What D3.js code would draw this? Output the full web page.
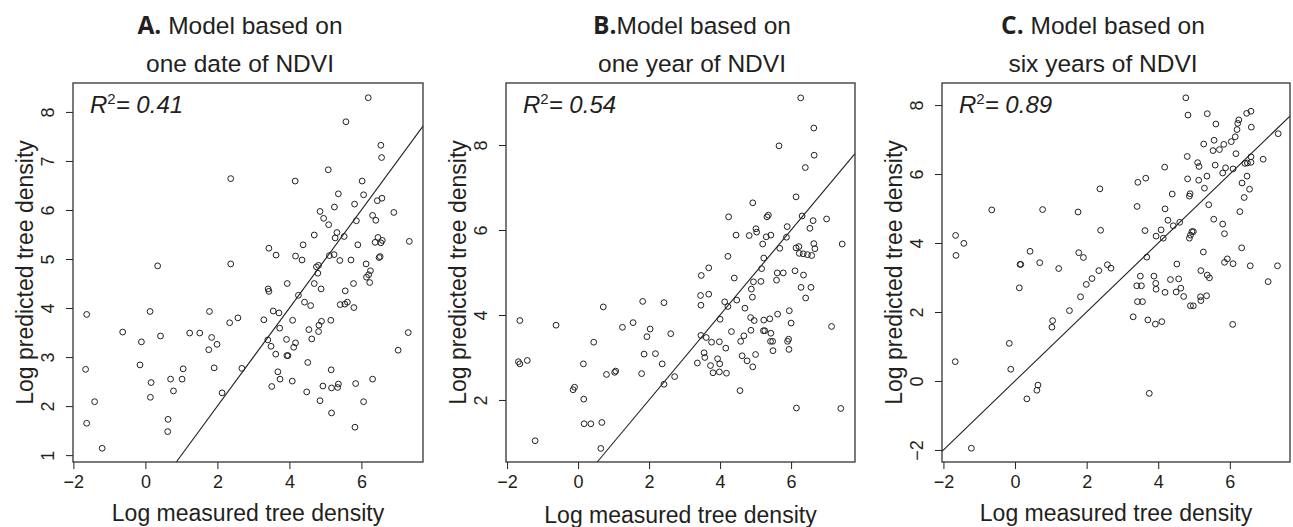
<!DOCTYPE html>
<html>
  <head>
    <meta charset="utf-8">
    <title>Predicted vs measured tree density</title>
    <style>
      body { margin: 0; background: #fff; }
      svg { display: block; }
      text { font-family: "Liberation Sans", Arial, sans-serif; fill: #231f20; }
    </style>
  </head>
  <body>
    <svg id="chart" width="1293" height="527"></svg>
    <script src="https://d3js.org/d3.v7.min.js"></script>
    <script>
      // points: [log measured, log predicted]
      const ptsA = [
        [6.19,8.29],[5.57,7.80],[6.54,7.32],[6.56,7.07],[5.08,6.82],[2.37,6.64],[4.16,6.59],[6.02,6.59],
        [6.06,6.31],[5.36,6.33],[5.25,6.06],[5.81,6.12],[6.57,6.24],[6.44,6.19],[4.85,5.97],[4.95,5.83],
        [6.90,5.95],[6.31,5.89],[6.40,5.79],[5.09,5.70],[5.86,5.78],[4.69,5.49],[5.32,5.54],[5.27,5.43],
        [5.52,5.46],[6.46,5.44],[6.38,5.34],[6.54,5.33],[6.58,5.38],[5.90,5.29],[4.38,5.29],[3.43,5.22],
        [3.63,5.08],[4.17,5.06],[4.35,4.98],[5.11,5.07],[5.24,5.09],[5.40,4.97],[5.71,4.98],[6.52,5.05],
        [6.49,5.03],[6.13,4.90],[0.34,4.86],[2.37,4.90],[4.75,4.84],[4.81,4.87],[4.79,4.71],[6.25,4.76],
        [6.20,4.68],[6.14,4.63],[6.23,4.52],[3.94,4.50],[4.69,4.50],[4.88,4.39],[5.78,4.50],[3.41,4.39],
        [3.43,4.34],[5.55,4.35],[4.25,4.26],[4.42,4.12],[4.59,4.05],[5.41,4.07],[5.54,4.08],[5.61,4.12],
        [5.79,4.01],[3.55,3.94],[3.71,3.90],[1.78,3.93],[0.13,3.93],[-1.63,3.87],[2.57,3.80],[2.34,3.70],
        [3.29,3.76],[4.09,3.75],[5.15,3.75],[4.89,3.73],[4.82,3.65],[3.73,3.59],[4.54,3.56],[4.81,3.52],
        [-0.63,3.51],[1.23,3.49],[1.51,3.49],[0.42,3.43],[1.84,3.40],[-0.11,3.31],[3.40,3.35],[3.92,3.36],
        [4.62,3.37],[1.99,3.26],[4.17,3.29],[3.49,3.22],[4.12,3.20],[1.76,3.15],[3.62,3.06],[3.93,3.03],
        [3.96,3.03],[7.02,3.14],[-0.15,2.84],[4.51,2.89],[-1.66,2.75],[1.05,2.76],[1.91,2.78],[2.68,2.77],
        [5.16,2.74],[3.68,2.70],[0.70,2.55],[1.02,2.55],[3.74,2.55],[4.08,2.51],[6.31,2.55],[0.16,2.48],
        [5.84,2.46],[3.51,2.40],[4.93,2.41],[5.17,2.37],[5.34,2.38],[5.36,2.45],[0.78,2.31],[4.48,2.29],
        [2.13,2.27],[0.14,2.18],[-1.41,2.09],[4.85,2.11],[6.06,2.09],[5.17,1.86],[-1.63,1.65],[0.63,1.73],
        [0.62,1.48],[5.82,1.57],[-1.20,1.14],[7.33,5.36],[7.30,3.50]
      ]
      const ptsB = [
        [6.27,9.11],[6.64,8.40],[5.66,7.98],[6.65,7.76],[6.40,7.47],[6.14,6.78],[4.92,6.64],[6.31,6.33],
        [6.62,6.22],[4.24,6.31],[5.32,6.31],[5.36,6.35],[5.89,6.08],[6.53,6.04],[5.01,6.03],[5.03,5.95],
        [4.45,5.88],[4.82,5.87],[5.30,5.84],[5.43,5.88],[5.87,5.83],[5.20,5.67],[6.64,5.68],[6.14,5.58],
        [6.22,5.61],[5.68,5.57],[6.67,5.56],[6.23,5.45],[6.34,5.44],[6.46,5.42],[6.58,5.40],[4.22,5.38],
        [5.23,5.34],[5.17,5.09],[3.68,5.11],[3.47,4.93],[5.61,4.99],[5.78,4.99],[6.11,5.04],[6.35,4.94],
        [4.40,4.87],[4.94,4.78],[5.15,4.79],[5.59,4.82],[4.88,4.61],[6.28,4.65],[6.56,4.65],[3.45,4.46],
        [3.68,4.49],[4.91,4.42],[6.41,4.40],[1.82,4.32],[2.42,4.29],[0.71,4.19],[4.13,4.31],[4.47,4.35],
        [4.22,4.20],[3.46,4.23],[4.70,4.16],[5.95,4.10],[5.62,4.02],[-1.64,3.87],[-0.62,3.76],[4.00,3.90],
        [4.86,3.94],[4.96,3.87],[5.23,3.88],[5.40,3.91],[6.00,3.81],[1.55,3.82],[1.25,3.71],[2.03,3.67],
        [1.94,3.49],[4.32,3.61],[4.87,3.64],[5.22,3.63],[5.26,3.63],[2.61,3.56],[3.46,3.52],[3.61,3.47],
        [4.67,3.51],[4.58,3.38],[3.76,3.36],[3.98,3.37],[5.43,3.57],[5.42,3.38],[5.48,3.38],[5.90,3.38],
        [5.93,3.43],[0.44,3.36],[4.16,3.22],[5.94,3.19],[5.49,3.16],[1.86,3.08],[2.18,3.09],[3.55,3.11],
        [3.57,3.00],[4.62,3.04],[5.00,3.07],[0.15,2.85],[2.37,2.85],[3.36,2.87],[3.93,2.97],[3.99,2.85],
        [4.76,2.92],[4.92,2.78],[-1.68,2.90],[-1.64,2.85],[-1.43,2.93],[3.73,2.81],[0.80,2.60],[1.06,2.68],
        [1.03,2.65],[1.79,2.62],[2.72,2.55],[3.80,2.64],[3.98,2.66],[4.18,2.63],[2.42,2.37],[-0.14,2.24],
        [-0.10,2.30],[4.56,2.22],[0.16,2.02],[6.15,1.81],[0.17,1.44],[0.36,1.44],[0.67,1.47],[-1.21,1.04],
        [0.64,0.86],[7.00,6.26],[7.44,5.67],[7.14,3.73],[7.40,1.80]
      ]
      const ptsC = [
        [4.77,8.21],[4.83,7.71],[5.37,7.75],[6.47,7.76],[6.59,7.82],[5.61,7.45],[6.25,7.57],[6.22,7.47],
        [6.60,7.36],[6.20,7.29],[6.15,7.08],[6.04,6.94],[5.83,6.86],[5.27,6.87],[5.56,6.98],[5.53,6.68],
        [5.71,6.71],[6.93,6.43],[4.81,6.51],[5.10,6.33],[5.14,6.22],[5.59,6.26],[5.88,6.18],[6.09,6.15],
        [6.17,6.59],[6.42,6.31],[6.49,6.32],[6.59,6.34],[6.59,6.50],[4.18,6.20],[4.82,5.86],[5.13,5.82],
        [5.36,5.94],[5.80,6.03],[6.48,5.94],[6.34,5.74],[5.29,5.59],[6.55,5.56],[3.43,5.76],[3.65,5.88],
        [2.37,5.57],[4.39,5.42],[4.89,5.43],[4.87,5.36],[6.40,5.32],[3.41,5.06],[4.19,4.99],[5.41,5.11],
        [6.28,4.91],[-0.65,4.96],[0.77,4.97],[1.76,4.90],[4.27,4.66],[4.60,4.60],[4.42,4.50],[5.55,4.69],
        [5.80,4.55],[5.85,4.27],[2.39,4.37],[3.63,4.36],[4.08,4.38],[3.94,4.20],[4.14,4.14],[4.87,4.14],
        [4.94,4.33],[4.98,4.33],[4.90,4.23],[-1.66,4.22],[-1.43,3.99],[-1.65,3.64],[0.42,3.76],[1.78,3.72],
        [1.91,3.58],[6.33,3.86],[5.26,3.74],[3.68,3.59],[0.14,3.38],[0.16,3.38],[0.69,3.43],[1.22,3.26],
        [2.58,3.37],[2.68,3.27],[2.34,3.20],[4.52,3.39],[5.85,3.44],[5.93,3.54],[6.09,3.40],[6.57,3.34],
        [2.15,2.97],[1.99,2.80],[3.50,3.04],[3.88,3.04],[5.19,3.20],[5.37,3.07],[5.43,2.99],[4.34,2.94],
        [4.57,2.96],[0.12,2.70],[3.40,2.76],[3.53,2.76],[3.93,2.83],[3.94,2.66],[4.19,2.57],[4.50,2.58],
        [4.63,2.69],[7.07,2.88],[1.83,2.44],[3.42,2.30],[3.56,2.30],[4.71,2.45],[4.90,2.18],[4.98,2.18],
        [5.19,2.33],[5.35,2.47],[5.18,2.44],[1.52,2.04],[3.30,1.86],[3.71,1.77],[3.92,1.65],[4.10,1.72],
        [6.08,1.64],[1.05,1.75],[1.03,1.56],[-0.16,1.09],[-1.67,0.56],[-0.12,0.34],[0.64,-0.12],[0.61,-0.27],
        [0.33,-0.52],[3.75,-0.36],[-1.22,-1.95],[7.35,7.17],[7.33,3.34]
      ]
      const panelLetters = ['A.', 'B.', 'C.']
      const titleTail = [' Model based on', 'Model based on', ' Model based on']
      const titleLine2 = ['one date of NDVI', 'one year of NDVI', 'six years of NDVI']
      const r2Values = ['0.41', '0.54', '0.89']
      const xTicks = [-2, 0, 2, 4, 6]
      const yTicksA = [1, 2, 3, 4, 5, 6, 7, 8]
      const yTicksB = [2, 4, 6, 8]
      const yTicksC = [-2, 0, 2, 4, 6, 8]
      const xLabel = 'Log measured tree density'
      const yLabel = 'Log predicted tree density'

      // panel frames in pixels and their axis ranges
      const panels = [
        { pts: ptsA, yTicks: yTicksA, left: 73, right: 423, xDom: [-2.01, 7.71], yDom: [0.86, 8.59], titleX: 240, xlabY: 521 },
        { pts: ptsB, yTicks: yTicksB, left: 506, right: 855, xDom: [-2.03, 7.80], yDom: [0.54, 9.46], titleX: 692, xlabY: 523 },
        { pts: ptsC, yTicks: yTicksC, left: 942, right: 1290, xDom: [-2.04, 7.68], yDom: [-2.35, 8.64], titleX: 1103, xlabY: 521 }
      ]
      const plotTop = 83
      const plotBottom = 462

      const svg = d3.select('#chart')

      function panel(p, i) {
        const x = d3.scaleLinear().domain(p.xDom).range([p.left, p.right])
        const y = d3.scaleLinear().domain(p.yDom).range([plotBottom, plotTop])
        const g = svg.append('g')

        // title, two lines
        const t = g.append('text')
          .attr('x', p.titleX).attr('y', 34)
          .attr('text-anchor', 'middle')
          .style('font-size', '24.5px')
        t.append('tspan').text(panelLetters[i])
          .style('font-family', '"Open Sans", sans-serif').style('font-weight', 700)
        t.append('tspan').text(titleTail[i])
        g.append('text')
          .attr('x', p.titleX).attr('y', 72)
          .attr('text-anchor', 'middle')
          .style('font-size', '24.5px')
          .text(titleLine2[i])

        // 1:1 line
        const lo = Math.max(p.xDom[0], p.yDom[0])
        const hi = Math.min(p.xDom[1], p.yDom[1])
        g.append('line')
          .attr('x1', x(lo)).attr('y1', y(lo))
          .attr('x2', x(hi)).attr('y2', y(hi))
          .attr('stroke', '#231f20').attr('stroke-width', 1.1)

        g.append('g')
          .selectAll('circle')
          .data(p.pts)
          .join('circle')
            .attr('cx', d => x(d[0]))
            .attr('cy', d => y(d[1]))
            .attr('r', 2.9)
            .attr('fill', 'none')
            .attr('stroke', '#231f20')
            .attr('stroke-width', 1)

        // axes: ticks only, the box draws the lines
        g.append('g')
          .attr('transform', `translate(0,${plotBottom})`)
          .call(d3.axisBottom(x).tickValues(xTicks).tickSize(7).tickSizeOuter(0))
          .call(a => a.select('.domain').remove())
          .call(a => a.selectAll('line').attr('stroke', '#231f20'))
          .call(a => a.selectAll('text')
            .attr('y', 26).attr('dy', null)
            .style('font-size', '18px').attr('font-family', null).attr('fill', null))

        g.append('g')
          .attr('transform', `translate(${p.left},0)`)
          .call(d3.axisLeft(y).tickValues(p.yTicks).tickSize(7).tickSizeOuter(0))
          .call(a => a.select('.domain').remove())
          .call(a => a.selectAll('line').attr('stroke', '#231f20'))
          .call(a => a.selectAll('text')
            .attr('x', null).attr('dy', null)
            .attr('text-anchor', 'middle')
            .attr('transform', 'translate(-19,0) rotate(-90)')
            .style('font-size', '18px').attr('font-family', null).attr('fill', null))

        g.append('rect')
          .attr('x', p.left).attr('y', plotTop)
          .attr('width', p.right - p.left).attr('height', plotBottom - plotTop)
          .attr('fill', 'none')
          .attr('stroke', '#333').attr('stroke-width', 1.3)

        // R squared
        const r = g.append('text')
          .attr('x', p.left + 17).attr('y', 113)
          .style('font-size', '24px').style('font-style', 'italic')
        r.append('tspan').text('R')
        r.append('tspan').text('2').attr('dy', -9).style('font-size', '15px').style('font-style', 'normal')
        r.append('tspan').text('= ' + r2Values[i]).attr('dy', 9)

        g.append('text')
          .attr('x', (p.left + p.right) / 2).attr('y', p.xlabY)
          .attr('text-anchor', 'middle')
          .style('font-size', '23px')
          .text(xLabel)

        g.append('text')
          .attr('transform', `translate(${p.left - 40},${(plotTop + plotBottom) / 2}) rotate(-90)`)
          .attr('text-anchor', 'middle')
          .style('font-size', '23px')
          .text(yLabel)
      }

      panels.forEach(panel)
    </script>
  </body>
</html>
